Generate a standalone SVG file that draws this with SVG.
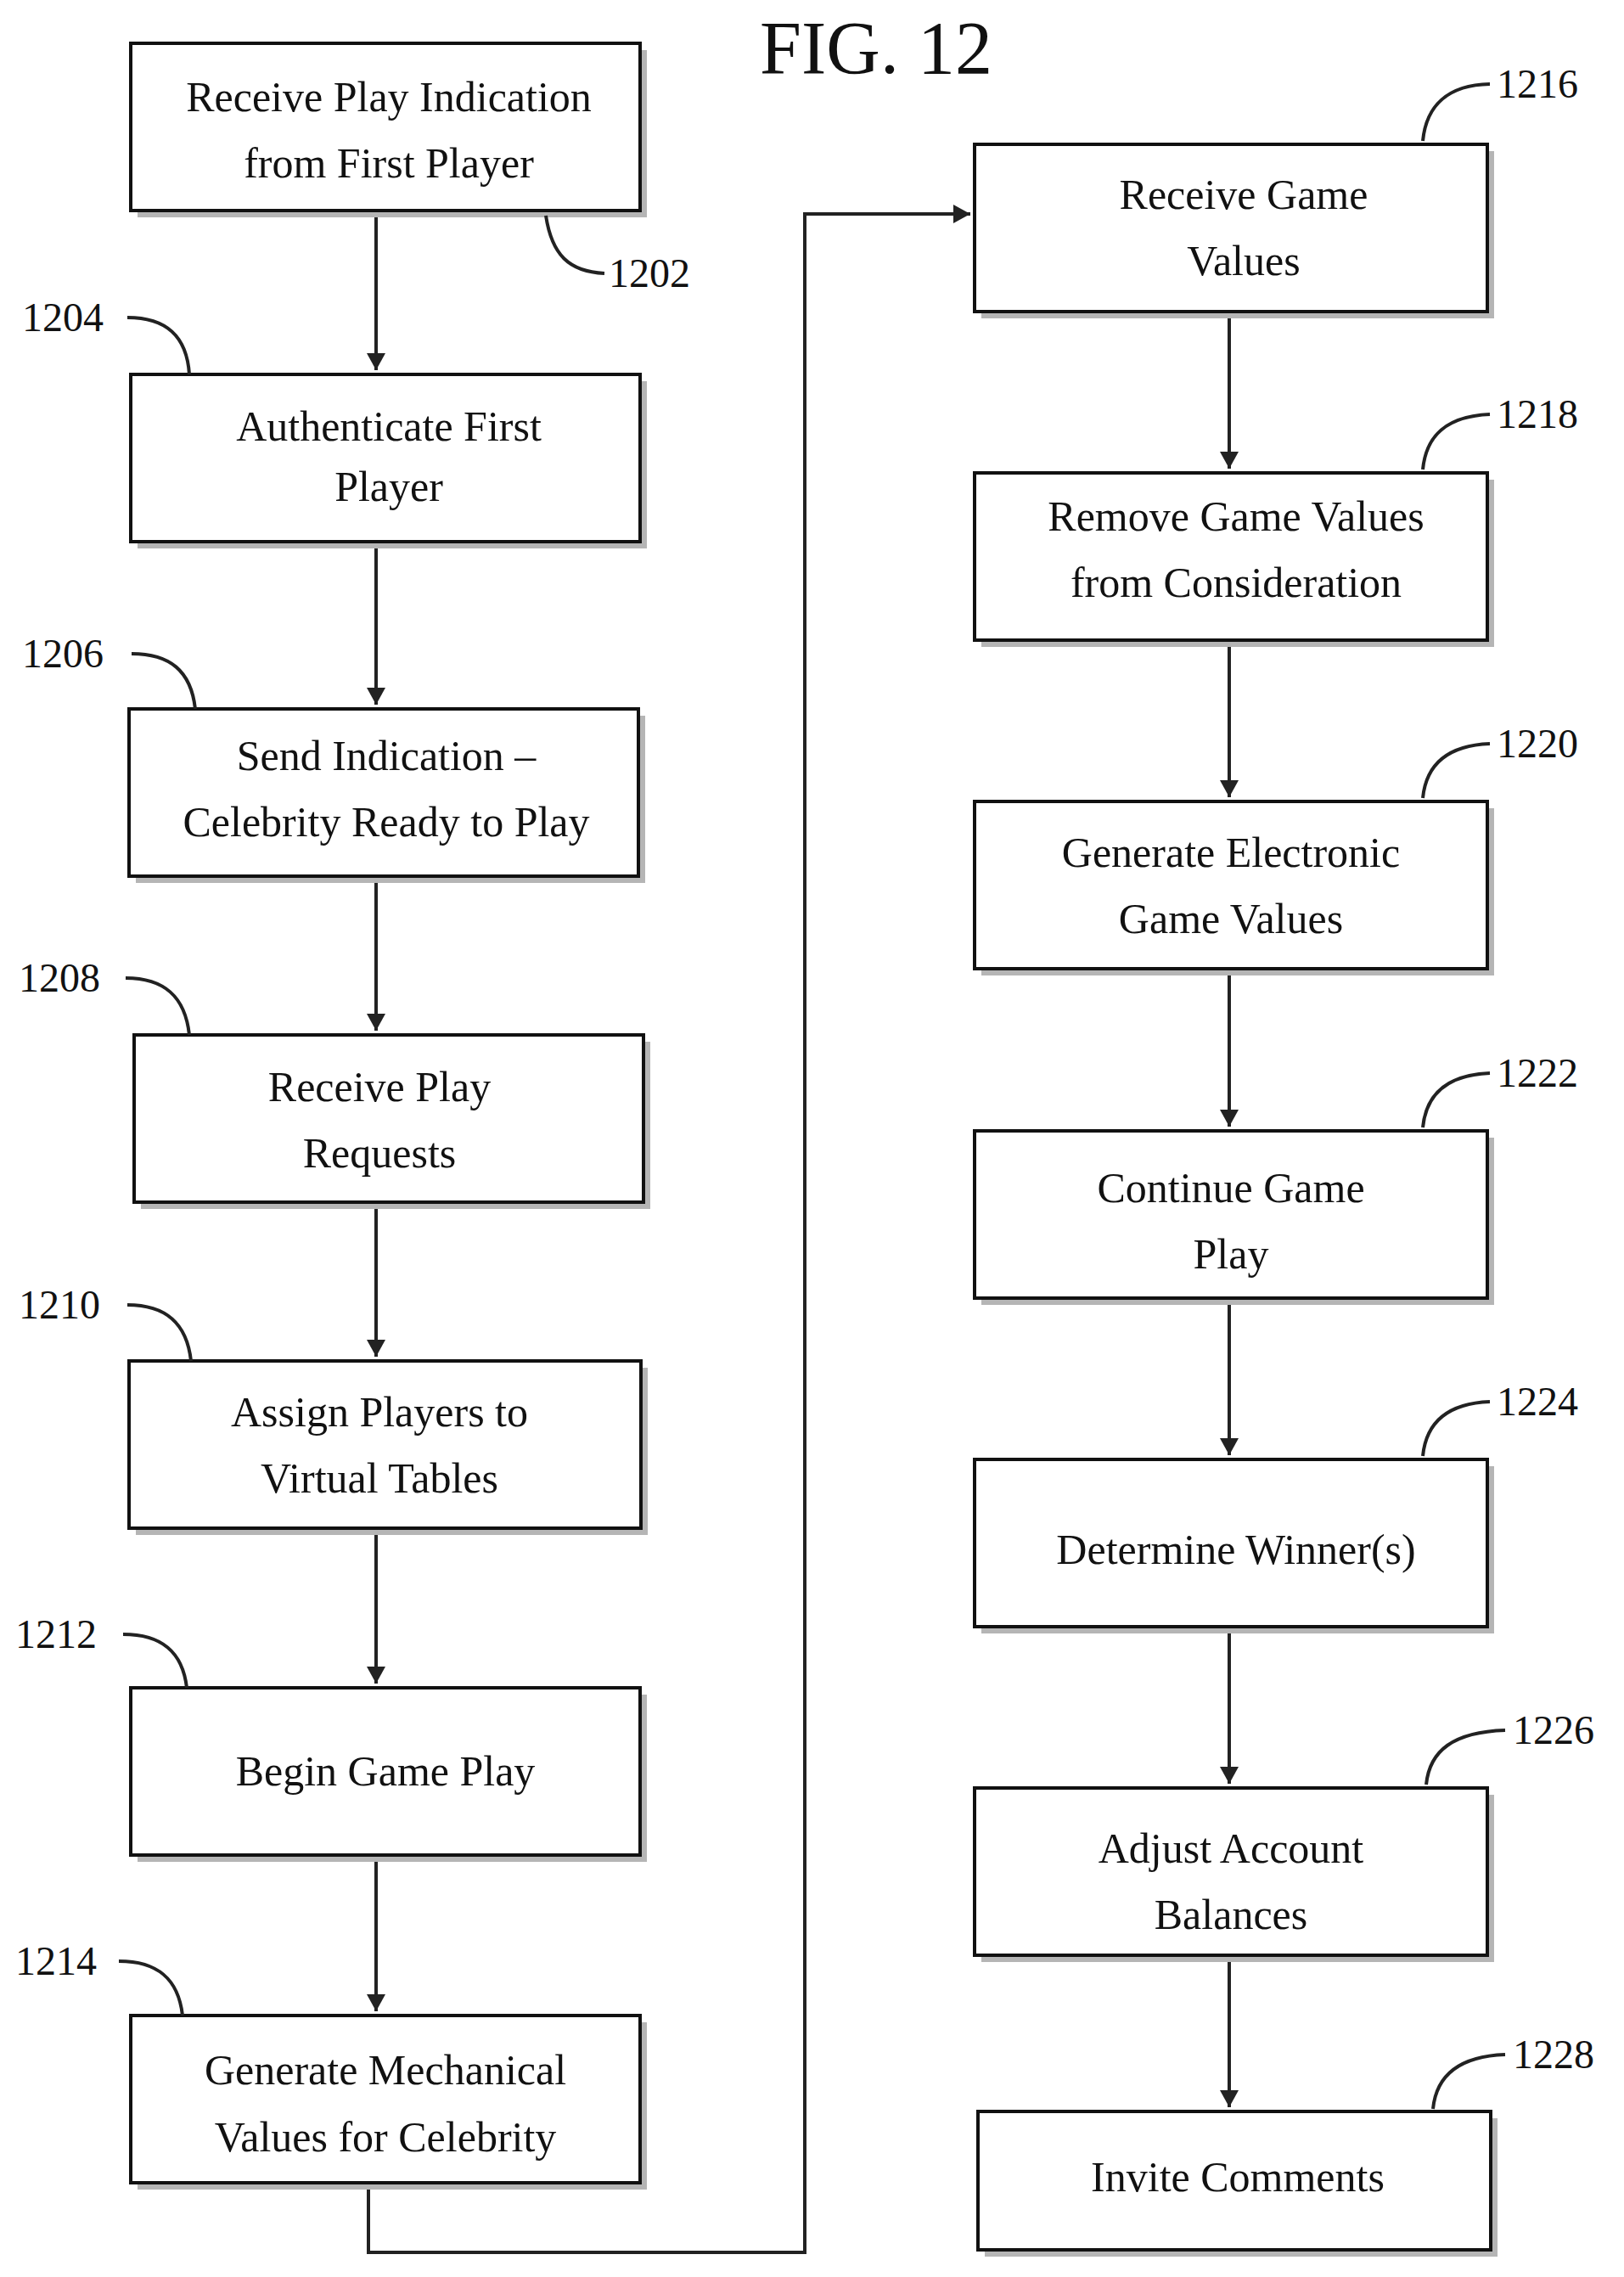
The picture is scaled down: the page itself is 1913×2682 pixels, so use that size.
<svg xmlns="http://www.w3.org/2000/svg" width="1913" height="2682" viewBox="0 0 1913 2682">
<style>
text{font-family:"Liberation Serif","Times New Roman",serif;fill:#111}
.t{font-size:50px;text-anchor:middle}
.l{font-size:48px}
.b{fill:#fff;stroke:#111;stroke-width:4}
.s{fill:#b5b5b5}
.c{fill:none;stroke:#222;stroke-width:4}
.ld{fill:none;stroke:#222;stroke-width:4}
</style>
<defs>
<marker id="m" markerWidth="20" markerHeight="22" refX="20" refY="11" orient="auto" markerUnits="userSpaceOnUse"><path d="M0,0L20,11L0,22z" fill="#222"/></marker></defs>
<text x="1032" y="86" font-size="88" text-anchor="middle">FIG. 12</text>
<g id="connectors">
<path class="c" d="M443,248V436" marker-end="url(#m)"/>
<path class="c" d="M443,638V830" marker-end="url(#m)"/>
<path class="c" d="M443,1032V1214" marker-end="url(#m)"/>
<path class="c" d="M443,1416V1598" marker-end="url(#m)"/>
<path class="c" d="M443,1800V1983" marker-end="url(#m)"/>
<path class="c" d="M443,2185V2369" marker-end="url(#m)"/>
<path class="c" d="M434,2571V2653H948V252H1143" marker-end="url(#m)"/>
<path class="c" d="M1448,367V552" marker-end="url(#m)"/>
<path class="c" d="M1448,754V939" marker-end="url(#m)"/>
<path class="c" d="M1448,1141V1327" marker-end="url(#m)"/>
<path class="c" d="M1448,1529V1714" marker-end="url(#m)"/>
<path class="c" d="M1448,1916V2101" marker-end="url(#m)"/>
<path class="c" d="M1448,2303V2482" marker-end="url(#m)"/>
</g>
<g id="n1202"><rect class="s" x="162" y="59" width="600" height="197"/><rect class="b" x="154" y="51" width="600" height="197"/><text class="t" x="458" y="131">Receive Play Indication</text><text class="t" x="458" y="209">from First Player</text><path class="ld" d="M643,254C650,300 670,320 712,322"/><text class="l" x="717" y="338">1202</text></g>
<g id="n1204"><rect class="s" x="162" y="449" width="600" height="197"/><rect class="b" x="154" y="441" width="600" height="197"/><text class="t" x="458" y="519">Authenticate First</text><text class="t" x="458" y="590">Player</text><path class="ld" d="M150,374C195,374 220,395 223,441"/><text class="l" x="26" y="390">1204</text></g>
<g id="n1206"><rect class="s" x="160" y="843" width="600" height="197"/><rect class="b" x="152" y="835" width="600" height="197"/><text class="t" x="455" y="907">Send Indication –</text><text class="t" x="455" y="985">Celebrity Ready to Play</text><path class="ld" d="M155,770C200,770 225,790 230,835"/><text class="l" x="26" y="786">1206</text></g>
<g id="n1208"><rect class="s" x="166" y="1227" width="600" height="197"/><rect class="b" x="158" y="1219" width="600" height="197"/><text class="t" x="447" y="1297">Receive Play</text><text class="t" x="447" y="1375">Requests</text><path class="ld" d="M148,1152C193,1152 218,1173 223,1219"/><text class="l" x="22" y="1168">1208</text></g>
<g id="n1210"><rect class="s" x="160" y="1611" width="603" height="197"/><rect class="b" x="152" y="1603" width="603" height="197"/><text class="t" x="447" y="1680">Assign Players to</text><text class="t" x="447" y="1758">Virtual Tables</text><path class="ld" d="M150,1537C195,1537 220,1558 225,1603"/><text class="l" x="22" y="1553">1210</text></g>
<g id="n1212"><rect class="s" x="162" y="1996" width="600" height="197"/><rect class="b" x="154" y="1988" width="600" height="197"/><text class="t" x="454" y="2103">Begin Game Play</text><path class="ld" d="M145,1925C190,1925 215,1945 220,1988"/><text class="l" x="18" y="1941">1212</text></g>
<g id="n1214"><rect class="s" x="162" y="2382" width="600" height="197"/><rect class="b" x="154" y="2374" width="600" height="197"/><text class="t" x="454" y="2455">Generate Mechanical</text><text class="t" x="454" y="2534">Values for Celebrity</text><path class="ld" d="M140,2310C185,2310 210,2330 215,2374"/><text class="l" x="18" y="2326">1214</text></g>
<g id="n1216"><rect class="s" x="1156" y="178" width="604" height="197"/><rect class="b" x="1148" y="170" width="604" height="197"/><text class="t" x="1465" y="246">Receive Game</text><text class="t" x="1465" y="324">Values</text><path class="ld" d="M1676,166C1680,125 1705,100 1755,99"/><text class="l" x="1763" y="115">1216</text></g>
<g id="n1218"><rect class="s" x="1156" y="565" width="604" height="197"/><rect class="b" x="1148" y="557" width="604" height="197"/><text class="t" x="1456" y="625">Remove Game Values</text><text class="t" x="1456" y="703">from Consideration</text><path class="ld" d="M1676,553C1680,512 1705,490 1755,488"/><text class="l" x="1763" y="504">1218</text></g>
<g id="n1220"><rect class="s" x="1156" y="952" width="604" height="197"/><rect class="b" x="1148" y="944" width="604" height="197"/><text class="t" x="1450" y="1021">Generate Electronic</text><text class="t" x="1450" y="1099">Game Values</text><path class="ld" d="M1676,940C1680,900 1705,878 1755,876"/><text class="l" x="1763" y="892">1220</text></g>
<g id="n1222"><rect class="s" x="1156" y="1340" width="604" height="197"/><rect class="b" x="1148" y="1332" width="604" height="197"/><text class="t" x="1450" y="1416">Continue Game</text><text class="t" x="1450" y="1494">Play</text><path class="ld" d="M1676,1328C1680,1288 1705,1266 1755,1264"/><text class="l" x="1763" y="1280">1222</text></g>
<g id="n1224"><rect class="s" x="1156" y="1727" width="604" height="197"/><rect class="b" x="1148" y="1719" width="604" height="197"/><text class="t" x="1456" y="1842">Determine Winner(s)</text><path class="ld" d="M1676,1715C1680,1675 1705,1653 1755,1651"/><text class="l" x="1763" y="1667">1224</text></g>
<g id="n1226"><rect class="s" x="1156" y="2114" width="604" height="197"/><rect class="b" x="1148" y="2106" width="604" height="197"/><text class="t" x="1450" y="2194">Adjust Account</text><text class="t" x="1450" y="2272">Balances</text><path class="ld" d="M1680,2102C1684,2062 1712,2040 1773,2038"/><text class="l" x="1782" y="2054">1226</text></g>
<g id="n1228"><rect class="s" x="1160" y="2495" width="604" height="163"/><rect class="b" x="1152" y="2487" width="604" height="163"/><text class="t" x="1458" y="2581">Invite Comments</text><path class="ld" d="M1688,2484C1692,2444 1720,2422 1773,2420"/><text class="l" x="1782" y="2436">1228</text></g>
</svg>
